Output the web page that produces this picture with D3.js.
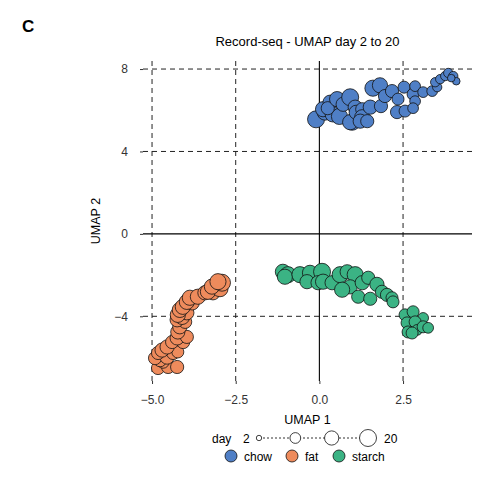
<!DOCTYPE html>
<html>
<head>
<meta charset="utf-8">
<script src="https://d3js.org/d3.v7.min.js"></script>
<style>
    body { margin: 0; background: #fff; }
    text { font-family: "Liberation Sans", Arial, sans-serif; }
    .tick text { fill: #333; font-size: 12px; }
</style>
</head>
<body>
<div id="chart"></div>
<script>
    // UMAP coordinates: [umap1, umap2, day]
    var chow = [
        [-0.10, 5.56, 20], [0.17, 5.91, 18], [0.11, 6.05, 16], [0.32, 6.39, 14],
        [0.40, 5.80, 16], [0.60, 5.70, 18], [0.25, 6.10, 12], [0.53, 6.54, 16],
        [0.71, 6.29, 14], [0.92, 6.63, 20], [0.98, 5.42, 18], [0.92, 5.42, 16],
        [1.07, 6.15, 14], [1.10, 5.90, 14], [1.28, 6.05, 12], [1.28, 5.66, 16],
        [1.22, 5.47, 14], [1.43, 5.47, 12], [1.52, 6.15, 14], [1.60, 7.07, 18],
        [1.81, 7.21, 16], [1.84, 6.20, 12], [1.96, 6.69, 12], [2.17, 6.93, 12],
        [2.35, 6.54, 10], [2.32, 5.91, 12], [2.53, 7.12, 10], [2.56, 5.96, 10],
        [2.80, 6.78, 10], [2.86, 7.17, 8], [2.86, 6.44, 8], [2.80, 6.10, 8],
        [3.10, 6.88, 8], [3.37, 6.93, 8], [3.52, 7.12, 6], [3.46, 7.36, 6],
        [3.61, 7.51, 6], [3.76, 7.66, 6], [3.85, 7.81, 6], [4.00, 7.66, 6],
        [4.09, 7.41, 4], [3.94, 7.56, 4]
    ];
    var fat = [
        [-4.82, -6.51, 12], [-4.52, -6.46, 12], [-4.25, -6.46, 12], [-4.67, -6.23, 10],
        [-4.76, -6.13, 12], [-4.91, -6.03, 12], [-4.55, -5.98, 14], [-4.82, -5.78, 12],
        [-4.37, -5.78, 12], [-4.23, -5.73, 10], [-4.70, -5.64, 14], [-4.55, -5.49, 14],
        [-4.40, -5.25, 12], [-4.07, -5.25, 12], [-4.25, -5.05, 14], [-3.96, -5.00, 12],
        [-4.23, -4.76, 14], [-4.17, -4.51, 14], [-4.01, -4.27, 12], [-4.25, -4.17, 14],
        [-4.10, -4.03, 16], [-3.96, -3.83, 14], [-4.23, -3.93, 16], [-4.17, -3.69, 16],
        [-4.08, -3.54, 16], [-3.80, -3.35, 14], [-3.96, -3.30, 16], [-3.87, -3.10, 16],
        [-3.63, -3.05, 16], [-3.42, -2.86, 14], [-3.18, -2.86, 14], [-3.33, -2.81, 16],
        [-2.97, -2.66, 18], [-3.21, -2.56, 16], [-2.91, -2.37, 20], [-3.03, -2.32, 18]
    ];
    var starch = [
        [-1.09, -1.84, 16], [-0.94, -1.98, 18], [-1.03, -2.08, 16], [-0.58, -1.98, 18],
        [-0.28, -1.89, 16], [-0.37, -2.32, 14], [0.08, -1.84, 20], [-0.04, -2.37, 14],
        [0.11, -2.32, 16], [0.38, -2.37, 14], [0.62, -1.98, 18], [0.83, -1.84, 14],
        [1.07, -1.98, 18], [0.92, -2.57, 14], [0.68, -2.71, 16], [1.28, -2.37, 14],
        [1.46, -2.13, 12], [1.16, -3.05, 12], [1.52, -3.15, 12], [1.72, -2.45, 14],
        [1.87, -2.81, 12], [2.02, -2.96, 12], [2.17, -3.10, 10], [2.20, -3.30, 10],
        [2.56, -3.93, 10], [2.80, -3.78, 10], [3.10, -4.08, 8], [2.62, -4.32, 10],
        [2.86, -4.27, 10], [2.65, -4.76, 10], [2.92, -4.66, 8], [3.10, -4.51, 10],
        [3.25, -4.56, 8], [2.77, -4.81, 10]
    ];

    var groups = ["chow", "fat", "starch"];
    var groupColors = ["#4f7fc6", "#ee8b5c", "#3bb384"];
    var xTicks = [-5, -2.5, 0, 2.5];
    var yTicks = [-4, 0, 4, 8];
    var legendDays = [2, 8, 14, 20];

    var W = 489, H = 477;
    var pL = 143, pR = 472, pT = 61, pB = 381;

    var svg = d3.select("#chart").append("svg")
        .attr("width", W)
        .attr("height", H);

    var x = d3.scaleLinear().domain([-5.27, 4.56]).range([pL, pR]);
    var y = d3.scaleLinear().domain([-7.14, 8.39]).range([pB, pT]);
    var r = d3.scaleSqrt().domain([0, 20]).range([0, 8.5]);
    var color = d3.scaleOrdinal().domain(groups).range(groupColors);

    // panel letter + title
    svg.append("text")
        .attr("x", 22).attr("y", 32)
        .attr("font-size", 17).attr("font-weight", "bold")
        .text("C");

    svg.append("text")
        .attr("x", (pL + pR) / 2).attr("y", 46)
        .attr("text-anchor", "middle")
        .attr("font-size", 13)
        .text("Record-seq - UMAP day 2 to 20");

    // dashed reference lines
    var grid = svg.append("g")
        .attr("stroke", "#222")
        .attr("stroke-width", 1)
        .attr("stroke-dasharray", "5,4");

    grid.selectAll(".vx").data(xTicks.filter(function (d) { return d != 0; }))
        .enter().append("line")
        .attr("x1", function (d) { return x(d); })
        .attr("x2", function (d) { return x(d); })
        .attr("y1", pT).attr("y2", pB);

    grid.selectAll(".hy").data(yTicks.filter(function (d) { return d != 0; }))
        .enter().append("line")
        .attr("x1", pL).attr("x2", pR)
        .attr("y1", function (d) { return y(d); })
        .attr("y2", function (d) { return y(d); });

    // solid zero lines
    svg.append("line")
        .attr("x1", x(0)).attr("x2", x(0))
        .attr("y1", pT).attr("y2", pB)
        .attr("stroke", "#000").attr("stroke-width", 1.1);
    svg.append("line")
        .attr("x1", pL).attr("x2", pR)
        .attr("y1", y(0)).attr("y2", y(0))
        .attr("stroke", "#000").attr("stroke-width", 1.1);

    // axes (ticks + labels only)
    var fmtX = function (d) { return d3.format(".1f")(d).replace("-", "\u2212"); };
    var fmtY = function (d) { return String(d).replace("-", "\u2212"); };

    var gx = svg.append("g")
        .attr("transform", "translate(0," + pB + ")")
        .call(d3.axisBottom(x).tickValues(xTicks).tickSize(3).tickPadding(11).tickFormat(fmtX));
    gx.select(".domain").remove();
    gx.selectAll(".tick line").attr("stroke", "#333");

    var gy = svg.append("g")
        .attr("transform", "translate(" + pL + ",0)")
        .call(d3.axisLeft(y).tickValues(yTicks).tickSize(3).tickPadding(12).tickFormat(fmtY));
    gy.select(".domain").remove();
    gy.selectAll(".tick line").attr("stroke", "#333");

    svg.append("text")
        .attr("x", (pL + pR) / 2).attr("y", 424)
        .attr("text-anchor", "middle").attr("font-size", 12.5)
        .text("UMAP 1");

    svg.append("text")
        .attr("transform", "translate(100," + (pT + pB) / 2 + ") rotate(-90)")
        .attr("text-anchor", "middle").attr("font-size", 12.5)
        .text("UMAP 2");

    // points
    var all = [];
    groups.forEach(function (g, i) {
        [chow, fat, starch][i].forEach(function (p) {
            all.push({ g: g, x: p[0], y: p[1], day: p[2] });
        });
    });

    svg.append("g")
        .selectAll("circle")
        .data(all)
        .enter().append("circle")
        .attr("cx", function (d) { return x(d.x); })
        .attr("cy", function (d) { return y(d.y); })
        .attr("r", function (d) { return r(d.day); })
        .attr("fill", function (d) { return color(d.g); })
        .attr("stroke", "#111")
        .attr("stroke-width", 0.8);

    // size legend
    var lg = svg.append("g").attr("transform", "translate(0,438)");
    lg.append("text").attr("x", 212).attr("y", 4.5).attr("font-size", 12).text("day");
    lg.append("text").attr("x", 243).attr("y", 4.5).attr("font-size", 12).text("2");
    lg.append("text").attr("x", 384).attr("y", 4.5).attr("font-size", 12).text("20");

    var lx = d3.scalePoint().domain(legendDays).range([259, 368]);
    lg.append("line")
        .attr("x1", lx(2)).attr("x2", lx(20))
        .attr("stroke", "#333").attr("stroke-width", 1)
        .attr("stroke-dasharray", "2,2");
    lg.selectAll("circle").data(legendDays).enter().append("circle")
        .attr("cx", function (d) { return lx(d); })
        .attr("r", function (d) { return r(d); })
        .attr("fill", "#fff").attr("stroke", "#111").attr("stroke-width", 0.8);

    // colour legend
    var cg = svg.append("g").attr("transform", "translate(0,456)");
    var cPos = [231, 292, 339];
    groups.forEach(function (g, i) {
        cg.append("circle").attr("cx", cPos[i]).attr("r", 6)
            .attr("fill", color(g)).attr("stroke", "#111").attr("stroke-width", 0.8);
        cg.append("text").attr("x", cPos[i] + 13).attr("y", 4.5)
            .attr("font-size", 12).text(g);
    });
</script>
</body>
</html>
